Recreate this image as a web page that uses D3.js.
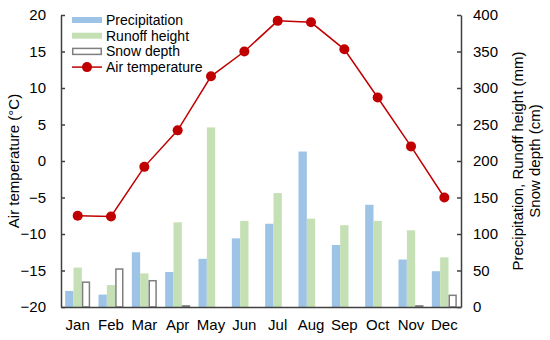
<!DOCTYPE html>
<html>
<head>
<meta charset="utf-8">
<script src="https://cdn.jsdelivr.net/npm/d3@7"></script>
<style>
  body { margin: 0; background: #fff; }
  text { font-family: "Liberation Sans", Arial, sans-serif; fill: #000; }
</style>
</head>
<body>
<div id="vis"></div>
<script>
var width = 550;
var height = 340;

// data
var months = ["Jan","Feb","Mar","Apr","May","Jun","Jul","Aug","Sep","Oct","Nov","Dec"];
var precipitation = [22, 17, 75, 48, 66, 94, 114, 213, 85, 140, 65, 49];
var runoff = [54, 30, 46, 116, 246, 118, 156, 121, 112, 118, 105, 68];
var snow = [34, 52, 36, 1.5, 0, 0, 0, 0, 0, 0, 1.5, 16];
var temperature = [-7.5, -7.6, -0.8, 4.2, 11.6, 15.0, 19.2, 19.0, 15.3, 8.7, 2.0, -5.0];
var leftTicks = [-20, -15, -10, -5, 0, 5, 10, 15, 20];
var rightTicks = [0, 50, 100, 150, 200, 250, 300, 350, 400];

var padding = {top: 15, left: 61, right: 89, bottom: 33};
var innerW = width - padding.left - padding.right;
var innerH = height - padding.top - padding.bottom;

var svg = d3.select('#vis').append('svg')
    .attr("width", width)
    .attr("height", height);

var chart = svg.append("g")
    .attr("transform", "translate(" + padding.left + "," + padding.top + ")");

var x = d3.scaleBand().domain(months).range([0, innerW]);
var yL = d3.scaleLinear().domain([-20, 20]).range([innerH, 0]);
var yR = d3.scaleLinear().domain([0, 400]).range([innerH, 0]);

var barW = x.bandwidth() * 0.25;
var series = [
  {name: "Precipitation", values: precipitation, fill: "#9dc3e6", stroke: "none"},
  {name: "Runoff height", values: runoff, fill: "#c5e0b4", stroke: "none"},
  {name: "Snow depth", values: snow, fill: "#ffffff", stroke: "#7f7f7f"}
];

series.forEach(function (s, si) {
  chart.append("g").selectAll("rect")
    .data(s.values)
    .enter().append("rect")
      .attr("x", function (d, i) { return x(months[i]) + x.bandwidth() * 0.125 + si * barW + (s.stroke === "none" ? 0 : 0.75); })
      .attr("y", function (d) { return yR(d); })
      .attr("width", s.stroke === "none" ? barW : barW - 1.5)
      .attr("height", function (d) { return innerH - yR(d); })
      .attr("fill", s.fill)
      .attr("stroke", s.stroke)
      .attr("stroke-width", 1.5)
      .style("display", function (d) { return d > 0 ? null : "none"; });
});

// axes
var axisColor = "#404040";
var left = chart.append("g")
    .call(d3.axisLeft(yL).tickValues(leftTicks).tickSizeInner(-4).tickSizeOuter(0).tickPadding(15));
var right = chart.append("g")
    .attr("transform", "translate(" + innerW + ",0)")
    .call(d3.axisRight(yR).tickValues(rightTicks).tickSizeInner(-4).tickSizeOuter(0).tickPadding(12));
var bottom = chart.append("g")
    .attr("transform", "translate(0," + innerH + ")")
    .call(d3.axisBottom(x).tickSize(0).tickPadding(12));

[left, right, bottom].forEach(function (a) {
  a.selectAll("path, line").attr("stroke", axisColor).attr("stroke-width", 1.5);
  a.selectAll("text").attr("font-size", 15).attr("fill", "#000");
});

// temperature line
var line = d3.line()
    .x(function (d, i) { return x(months[i]) + x.bandwidth() / 2; })
    .y(function (d) { return yL(d); });

chart.append("path")
    .datum(temperature)
    .attr("d", line)
    .attr("fill", "none")
    .attr("stroke", "#c00000")
    .attr("stroke-width", 1.5);

chart.append("g").selectAll("circle")
    .data(temperature)
    .enter().append("circle")
      .attr("cx", function (d, i) { return x(months[i]) + x.bandwidth() / 2; })
      .attr("cy", function (d) { return yL(d); })
      .attr("r", 5)
      .attr("fill", "#c00000");

// axis titles
svg.append("text")
    .attr("transform", "translate(19," + (padding.top + innerH / 2) + ") rotate(-90)")
    .attr("text-anchor", "middle")
    .attr("font-size", 15)
    .text("Air temperature (\u00b0C)");

var rt = svg.append("text")
    .attr("transform", "translate(523," + (padding.top + innerH / 2) + ") rotate(-90)")
    .attr("text-anchor", "middle")
    .attr("font-size", 15);
rt.append("tspan").attr("x", 0).attr("dy", 0).text("Precipitation, Runoff height (mm)");
rt.append("tspan").attr("x", 0).attr("dy", 17).text("Snow depth (cm)");

// legend
var legend = svg.append("g").attr("transform", "translate(72,20)");
var items = series.concat([{name: "Air temperature", line: true}]);
items.forEach(function (it, i) {
  var g = legend.append("g").attr("transform", "translate(0," + (i * 15.7) + ")");
  if (it.line) {
    g.append("line").attr("x1", 0).attr("x2", 30).attr("y1", 0).attr("y2", 0)
      .attr("stroke", "#c00000").attr("stroke-width", 1.5);
    g.append("circle").attr("cx", 15).attr("cy", 0).attr("r", 5).attr("fill", "#c00000");
  } else {
    g.append("rect").attr("x", it.stroke === "none" ? 0 : 0.75).attr("y", -3)
      .attr("width", it.stroke === "none" ? 30 : 28.5).attr("height", 6)
      .attr("fill", it.fill).attr("stroke", it.stroke).attr("stroke-width", 1.5);
  }
  g.append("text").attr("x", 34).attr("y", 0).attr("dy", "0.35em")
    .attr("font-size", 14).text(it.name);
});
</script>
</body>
</html>
